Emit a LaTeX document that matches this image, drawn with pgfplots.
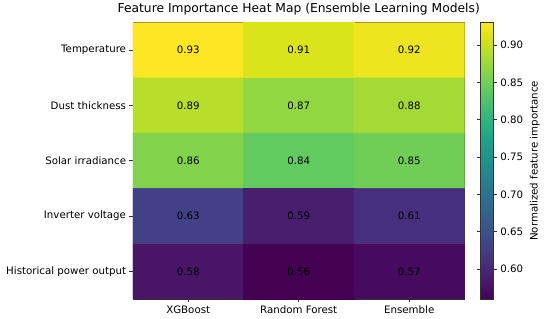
\documentclass[border=0pt]{standalone}
\usepackage{pgfplots}
\pgfplotsset{compat=1.18}
\usepackage{fontspec}
\setmainfont{DejaVu Sans}
\begin{document}
\begin{tikzpicture}
\begin{axis}[
  scale only axis,
  width=337bp, height=281bp,
  xmin=-0.5, xmax=2.5, ymin=-0.5, ymax=4.5,
  y dir=reverse,
  xtick={0,1,2}, xticklabels={XGBoost,Random Forest,Ensemble},
  ytick={0,1,2,3,4}, yticklabels={Temperature,Dust thickness,Solar irradiance,Inverter voltage,Historical power output},
  xtick pos=bottom, ytick pos=left,
  tick align=outside, major tick length=3.5bp,
  tick style={black!80, line width=0.6bp},
  axis line style={black!80, line width=0.6bp},
  ticklabel style={font=\fontsize{10.4bp}{12bp}\selectfont},
  title={Feature Importance Heat Map (Ensemble Learning Models)},
  title style={font=\fontsize{12.5bp}{15bp}\selectfont, yshift=-2bp},
  colormap/viridis,
  point meta min=0.56, point meta max=0.93,
  colorbar,
  colorbar shift/.style={xshift=16bp},
  colorbar style={
    at={(parent axis.north east)}, anchor=north west,
    width=13.5bp,
    scale only axis,
    ytick={0.60,0.65,0.70,0.75,0.80,0.85,0.90},
    yticklabel style={font=\fontsize{10.4bp}{12bp}\selectfont, /pgf/number format/.cd, fixed, fixed zerofill, precision=2, assume math mode=true},
    ylabel={Normalized feature importance},
    ylabel style={font=\fontsize{10.4bp}{12bp}\selectfont},
    tick align=outside, major tick length=3.5bp,
    tick style={black!80, line width=0.6bp},
    axis line style={black!80, line width=0.6bp},
  },
]
\addplot[matrix plot*, mesh/cols=3, point meta=explicit] table[meta=z] {
x y z
0 0 0.93
1 0 0.91
2 0 0.92
0 1 0.89
1 1 0.87
2 1 0.88
0 2 0.86
1 2 0.84
2 2 0.85
0 3 0.63
1 3 0.59
2 3 0.61
0 4 0.58
1 4 0.56
2 4 0.57
};
\addplot[only marks, mark=none, nodes near coords, nodes near coords align={center},
  point meta=explicit symbolic,
  every node near coord/.append style={font=\fontsize{10.4bp}{12bp}\selectfont, text=black, anchor=center}]
  table[meta=z] {
x y z
0 0 0.93
1 0 0.91
2 0 0.92
0 1 0.89
1 1 0.87
2 1 0.88
0 2 0.86
1 2 0.84
2 2 0.85
0 3 0.63
1 3 0.59
2 3 0.61
0 4 0.58
1 4 0.56
2 4 0.57
};
\end{axis}
\path (current bounding box.south east) ++(7bp,-1bp);
\path (current bounding box.north west) ++(-3bp,0bp);
\end{tikzpicture}
\end{document}
